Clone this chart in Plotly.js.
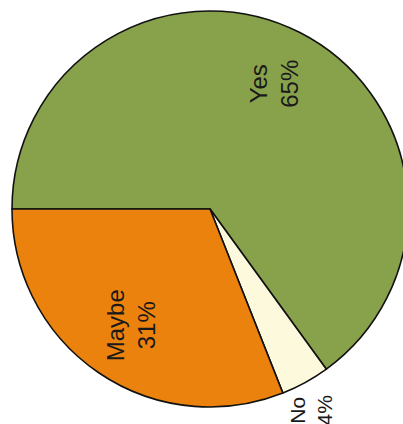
<!DOCTYPE html>
<html>
<head>
<meta charset="utf-8">
<script src="https://cdn.plot.ly/plotly-3.0.1.min.js"></script>
<style>
  html, body { margin: 0; padding: 0; background: #ffffff; overflow: hidden; width: 403px; height: 424px; }
  #wrap { position: absolute; left: 0; top: 0; width: 403px; height: 424px; overflow: hidden; }
  #chart { position: absolute; left: -20px; top: -21px; width: 460px; height: 460px; transform: rotate(-90deg); transform-origin: 230px 230px; }
</style>
</head>
<body>
<div id="wrap"><div id="chart"></div></div>
<script>
const labels = ["Yes", "No", "Maybe"];
const values = [65, 4, 31];
const colors = ["#88a24c", "#fdf9dc", "#eb820e"];
const positions = ["inside", "outside", "inside"];

const font = "Liberation Sans, Arial, sans-serif";

// slices
const slices = {
  type: "pie",
  labels: labels,
  values: values,
  sort: false,
  direction: "clockwise",
  rotation: 0,
  textinfo: "none",
  marker: { colors: colors, line: { color: "#111111", width: 1.6 } },
  hoverinfo: "none"
};

// labels layer (same pie, transparent, used only to place the texts further out)
const texts = {
  type: "pie",
  labels: labels,
  values: values,
  sort: false,
  direction: "clockwise",
  rotation: 0,
  hole: 0.42,
  textinfo: "label+percent",
  textposition: positions,
  insidetextorientation: "horizontal",
  textfont: { family: font, size: 24, color: "#1a1a1a" },
  outsidetextfont: { family: font, size: 21, color: "#1a1a1a" },
  marker: { colors: ["rgba(0,0,0,0)", "rgba(0,0,0,0)", "rgba(0,0,0,0)"], line: { width: 0 } },
  hoverinfo: "none"
};

Plotly.newPlot("chart", [slices, texts], {
  width: 460,
  height: 460,
  margin: { l: 32, r: 32, t: 32, b: 32 },
  showlegend: false,
  paper_bgcolor: "#ffffff",
  plot_bgcolor: "#ffffff"
}, { staticPlot: true, displayModeBar: false });
</script>
</body>
</html>
